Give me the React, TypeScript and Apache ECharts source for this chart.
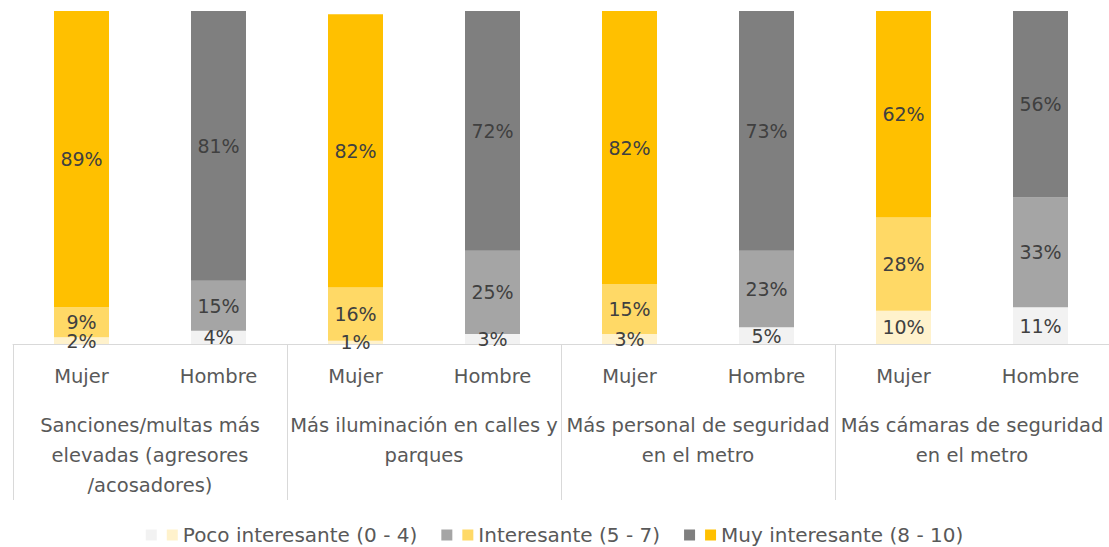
import React, { useEffect, useRef } from "react";
import * as echarts from "echarts";

const categories = ["Mujer", "Hombre", "Mujer", "Hombre", "Mujer", "Hombre", "Mujer", "Hombre"];
const groups = [
  "Sanciones/multas más\nelevadas (agresores\n/acosadores)",
  "Más iluminación en calles y\nparques",
  "Más personal de seguridad\nen el metro",
  "Más cámaras de seguridad\nen el metro",
];
const levelNames = ["Poco interesante (0 - 4)", "Interesante (5 - 7)", "Muy interesante (8 - 10)"];
// values per group: [Mujer, Hombre]
const poco = [2, 4, 1, 3, 3, 5, 10, 11];
const interesante = [9, 15, 16, 25, 15, 23, 28, 33];
const muy = [89, 81, 82, 72, 82, 73, 62, 56];

const grayColors = ["#F2F2F2", "#A5A5A5", "#7F7F7F"];
const yellowColors = ["#FFF2CC", "#FFD966", "#FFC000"];

const FONT = "DejaVu Sans";

export default function App() {
  const ref = useRef<HTMLDivElement>(null);
  useEffect(() => {
    if (!ref.current) return;
    const chart = echarts.init(ref.current, undefined, { renderer: "svg" });
    const levels = [poco, interesante, muy];
    const series: any[] = [];
    const legendData: any[] = [];
    const labelCfg = {
      show: true,
      position: "inside",
      formatter: "{c}%",
      color: "#404040",
      fontSize: 19,
      fontFamily: FONT,
    };
    levels.forEach((vals, li) => {
      const hName = levelNames[li] + " H";
      const mName = levelNames[li];
      legendData.push(hName, mName);
      series.push({
        name: hName,
        type: "bar",
        stack: "total",
        barWidth: 55,
        itemStyle: { color: grayColors[li] },
        label: labelCfg,
        data: vals.map((v, i) => (i % 2 === 1 ? v : null)),
      });
      series.push({
        name: mName,
        type: "bar",
        stack: "total",
        barWidth: 55,
        itemStyle: { color: yellowColors[li] },
        label: labelCfg,
        data: vals.map((v, i) => (i % 2 === 0 ? v : null)),
      });
    });

    chart.setOption({
      animation: false,
      grid: { left: 13, right: -4, top: 11, bottom: 203, containLabel: false },
      legend: {
        data: legendData,
        top: 524,
        left: "center",
        padding: 0,
        itemWidth: 11,
        itemHeight: 11,
        itemGap: 5,
        icon: "rect",
        selectedMode: false,
        formatter: (name: string) =>
          name.endsWith(" H") ? "" : name === levelNames[2] ? name : name + "\u00a0\u00a0\u00a0",
        textStyle: {
          color: "#595959",
          fontSize: 20,
          lineHeight: 22,
          fontFamily: FONT,
        },
      },
      xAxis: [
        {
          type: "category",
          data: categories,
          position: "bottom",
          axisLine: { show: true, lineStyle: { color: "#D9D9D9", width: 1 } },
          axisTick: { show: false },
          axisLabel: {
            interval: 0,
            color: "#595959",
            fontSize: 19.5,
            fontFamily: FONT,
            margin: 22,
          },
        },
        {
          type: "category",
          data: groups,
          position: "bottom",
          axisLine: { show: false },
          axisTick: {
            show: true,
            interval: 0,
            length: 156,
            lineStyle: { color: "#D9D9D9", width: 1 },
          },
          axisLabel: {
            interval: 0,
            color: "#595959",
            fontSize: 19.5,
            fontFamily: FONT,
            lineHeight: 30,
            margin: 66,
          },
        },
      ],
      yAxis: { type: "value", min: 0, max: 100, show: false },
      series,
    });
    return () => chart.dispose();
  }, []);
  return (
    <div
      ref={ref}
      style={{ position: "absolute", left: 0, top: 0, width: 1109, height: 547, background: "#fff" }}
    />
  );
}
